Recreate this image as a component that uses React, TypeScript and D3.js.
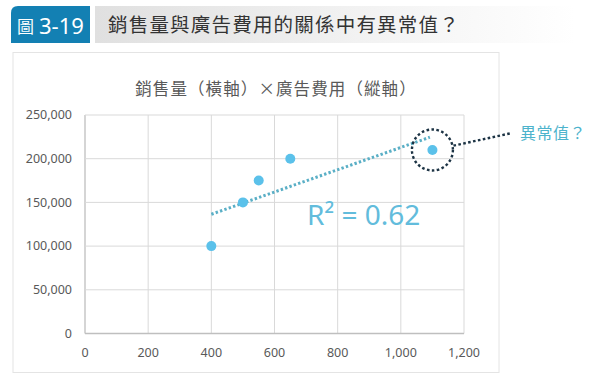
import * as d3 from "d3";
import { useEffect, useRef } from "react";

// 銷售量 (x) and 廣告費用 (y)
const salesVolume = [400, 500, 550, 650, 1100];
const adCost = [100000, 150000, 175000, 200000, 210000];
const outlierIndex = 4;

const xTicks = [0, 200, 400, 600, 800, 1000, 1200];
const yTicks = [0, 50000, 100000, 150000, 200000, 250000];

const figureLabel = "3-19";
const headerTitle = "銷售量與廣告費用的關係中有異常值？";
const chartTitle = "銷售量（橫軸）×廣告費用（縱軸）";
const outlierLabel = "異常值？";

const CJK = "'Noto Sans CJK TC', 'Noto Sans', sans-serif";
const NUM = "'Noto Sans', 'Open Sans', sans-serif";

export default function App() {
    const svgRef = useRef<SVGSVGElement>(null);

    const width = 600;
    const height = 373;
    const plot = { left: 85, right: 464, top: 115, bottom: 333.5 };

    useEffect(() => {
        const svg = d3.select(svgRef.current);
        svg.selectAll("*").remove();

        // header
        const defs = svg.append("defs");
        const grad = defs.append("linearGradient").attr("id", "hdr").attr("x1", "0").attr("x2", "1");
        grad.append("stop").attr("offset", "0").attr("stop-color", "#e0e0e0");
        grad.append("stop").attr("offset", "0.55").attr("stop-color", "#f2f2f2");
        grad.append("stop").attr("offset", "1").attr("stop-color", "#ffffff");

        svg.append("rect").attr("x", 95).attr("y", 6).attr("width", 480).attr("height", 37).attr("fill", "url(#hdr)");
        svg.append("path")
            .attr("d", "M11,43 L11,13 Q11,6 18,6 L90,6 L90,43 Z")
            .attr("fill", "#1380b3");
        svg.append("text").attr("x", 17).attr("y", 33).attr("fill", "#fff")
            .attr("font-family", CJK).attr("font-size", 17).text("圖");
        svg.append("text").attr("x", 39).attr("y", 34).attr("fill", "#fff")
            .attr("font-family", NUM).attr("font-size", 22).text(figureLabel);
        svg.append("text").attr("x", 108).attr("y", 32).attr("fill", "#333")
            .attr("font-family", CJK).attr("font-size", 19.5)
            .attr("letter-spacing", 1.2).text(headerTitle);

        // chart frame
        svg.append("rect").attr("x", 13).attr("y", 52.5).attr("width", 486).attr("height", 320)
            .attr("fill", "#fff").attr("stroke", "#e4e4e4");

        svg.append("text").attr("x", 276).attr("y", 95).attr("text-anchor", "middle")
            .attr("fill", "#595959").attr("font-family", CJK).attr("font-size", 16.5)
            .attr("letter-spacing", 1.1)
            .text(chartTitle);

        const x = d3.scaleLinear().domain([0, 1200]).range([plot.left, plot.right]);
        const y = d3.scaleLinear().domain([0, 250000]).range([plot.bottom, plot.top]);

        const g = svg.append("g");

        // grid
        g.selectAll(".vg").data(xTicks).join("line")
            .attr("x1", d => x(d)).attr("x2", d => x(d))
            .attr("y1", plot.top).attr("y2", plot.bottom)
            .attr("stroke", d => (d === 0 ? "#bfbfbf" : "#d9d9d9")).attr("stroke-width", d => (d === 0 ? 1.3 : 1));
        g.selectAll(".hg").data(yTicks).join("line")
            .attr("x1", plot.left).attr("x2", plot.right)
            .attr("y1", d => y(d)).attr("y2", d => y(d))
            .attr("stroke", d => (d === 0 ? "#bfbfbf" : "#d9d9d9")).attr("stroke-width", d => (d === 0 ? 1.3 : 1));

        // tick labels
        const fmt = d3.format(",");
        g.selectAll(".yl").data(yTicks).join("text")
            .attr("x", 72).attr("y", d => y(d)).attr("dy", "0.35em")
            .attr("text-anchor", "end").attr("fill", "#595959")
            .attr("font-family", NUM).attr("font-size", 12.5)
            .text(d => fmt(d));
        g.selectAll(".xl").data(xTicks).join("text")
            .attr("x", d => x(d)).attr("y", 353).attr("dy", "0.35em")
            .attr("text-anchor", "middle").attr("fill", "#595959")
            .attr("font-family", NUM).attr("font-size", 12.5)
            .text(d => fmt(d));

        // linear trend (least squares)
        const mx = d3.mean(salesVolume)!;
        const my = d3.mean(adCost)!;
        const sxy = d3.sum(salesVolume, (v, i) => (v - mx) * (adCost[i] - my));
        const sxx = d3.sum(salesVolume, v => (v - mx) ** 2);
        const syy = d3.sum(adCost, v => (v - my) ** 2);
        const slope = sxy / sxx;
        const icpt = my - slope * mx;
        const r2 = (sxy * sxy) / (sxx * syy);
        const [x0, x1] = d3.extent(salesVolume) as [number, number];

        const line = d3.line<number>().x(d => x(d)).y(d => y(icpt + slope * d));
        g.append("path").datum([x0, x1 - 8]).attr("d", line)
            .attr("fill", "none").attr("stroke", "#5aafc6").attr("stroke-width", 3)
            .attr("stroke-dasharray", "2.4 2.2");

        // points
        g.selectAll(".pt").data(salesVolume).join("circle")
            .attr("cx", d => x(d)).attr("cy", (_, i) => y(adCost[i]))
            .attr("r", 5).attr("fill", "#5bc1ea");

        // R² label
        svg.append("text").attr("x", 307).attr("y", 225)
            .attr("fill", "#62bcdc").attr("font-family", NUM).attr("font-size", 28)
            .text(`R² = ${r2.toFixed(2)}`);

        // outlier annotation
        const cx = x(salesVolume[outlierIndex]);
        const cy = y(adCost[outlierIndex]);
        const rr = 20.5;
        svg.append("circle").attr("cx", cx).attr("cy", cy).attr("r", rr)
            .attr("fill", "none").attr("stroke", "#1c3344").attr("stroke-width", 2.4)
            .attr("stroke-dasharray", "2.6 2.4");
        const ang = Math.atan2(133 - cy, 512 - cx);
        svg.append("line")
            .attr("x1", cx + rr * Math.cos(ang) + 1).attr("y1", cy + rr * Math.sin(ang))
            .attr("x2", 512).attr("y2", 133)
            .attr("stroke", "#1c3344").attr("stroke-width", 2.4)
            .attr("stroke-dasharray", "2.6 2.4");
        svg.append("text").attr("x", 520).attr("y", 139)
            .attr("fill", "#4db3cc").attr("font-family", CJK).attr("font-size", 16)
            .attr("letter-spacing", 0.5).text(outlierLabel);
    }, []);

    return (
        <svg
            ref={svgRef}
            width={width}
            height={height}
            style={{ position: "absolute", left: 0, top: 0, background: "#fff" }}
        ></svg>
    );
}
